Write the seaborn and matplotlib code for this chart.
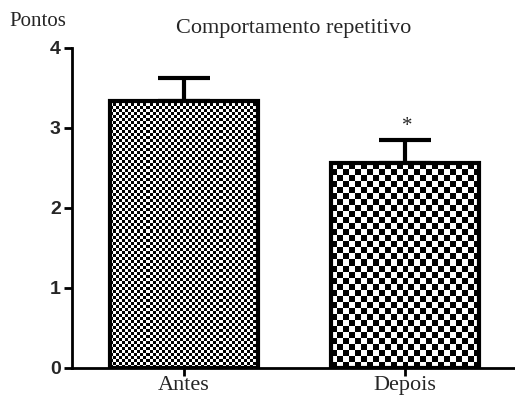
import numpy as np
import pandas as pd
import matplotlib
matplotlib.use("Agg")
import matplotlib.pyplot as plt
import seaborn as sns

categories = ["Antes", "Depois"]
means = [3.34, 2.56]
sems = [0.28, 0.29]
yticks = [0, 1, 2, 3, 4]
title = "Comportamento repetitivo"
ylabel = "Pontos"
signif = ["", "*"]

sns.set_style("ticks")
plt.rcParams["font.family"] = ["Liberation Sans", "DejaVu Sans"]

W, H = 515, 396
fig = plt.figure(figsize=(W / 100, H / 100), dpi=100)
ax = fig.add_axes([72 / W, 1 - 368 / H, (W - 72) / W, (368 - 48) / H])

df = pd.DataFrame({"grupo": categories, "pontos": means})
sns.barplot(data=df, x="grupo", y="pontos", ax=ax, color="white",
            edgecolor="black", linewidth=3, width=0.67, errorbar=None)

ax.set_ylim(0, 4)
ax.set_xlim(-0.507, 1.498)

# error bars (upper only)
xs = np.arange(len(categories))
ax.errorbar(xs, means, yerr=[np.zeros(len(sems)), sems], fmt="none",
            ecolor="black", elinewidth=3, capsize=19, capthick=3, zorder=1)

# checkerboard fills clipped to bars
cell_px = [3, 6]
fig.canvas.draw()
for patch, cp in zip(ax.patches, cell_px):
    x0, w = patch.get_x(), patch.get_width()
    h = patch.get_height()
    bb = patch.get_window_extent()
    nx = max(1, int(round(bb.width / cp)))
    ny = max(1, int(round(bb.height / cp)))
    board = (np.indices((ny, nx)).sum(axis=0) % 2).astype(float)
    im = ax.imshow(board, cmap="gray", vmin=0, vmax=1, interpolation="nearest",
                   extent=[x0, x0 + w, 0, h], aspect="auto", zorder=1.5,
                   origin="lower")
    im.set_clip_path(patch)
    patch.set_zorder(2)
    patch.set_facecolor("none")

ax.set_xlim(-0.507, 1.498)
ax.set_ylim(0, 4)

for x, m, s, t in zip(xs, means, sems, signif):
    if t:
        ax.text(x + 0.01, m + s + 0.05, t, ha="center", va="bottom",
                fontsize=15, family=["Liberation Serif"])

ax.set_yticks(yticks)
ax.set_yticklabels([str(v) for v in yticks], fontsize=14, fontweight="bold")
ax.set_xticklabels(categories, family=["Liberation Serif"], fontsize=16)
ax.set_xlabel("")
ax.set_ylabel("")
for sp in ["top", "right"]:
    ax.spines[sp].set_visible(False)
for sp in ["left", "bottom"]:
    ax.spines[sp].set_linewidth(2)
    ax.spines[sp].set_color("black")
ax.tick_params(axis="both", width=2, length=6, color="black", pad=2)
ax.tick_params(axis="x", pad=0)

fig.text(294 / W, 1 - 29 / H, title, ha="center", va="center",
         fontsize=16, family=["Liberation Serif"])
fig.text(9 / W, 1 - 22 / H, ylabel, ha="left", va="center",
         fontsize=15, family=["Liberation Serif"])

fig.savefig("out.png", dpi=100)
